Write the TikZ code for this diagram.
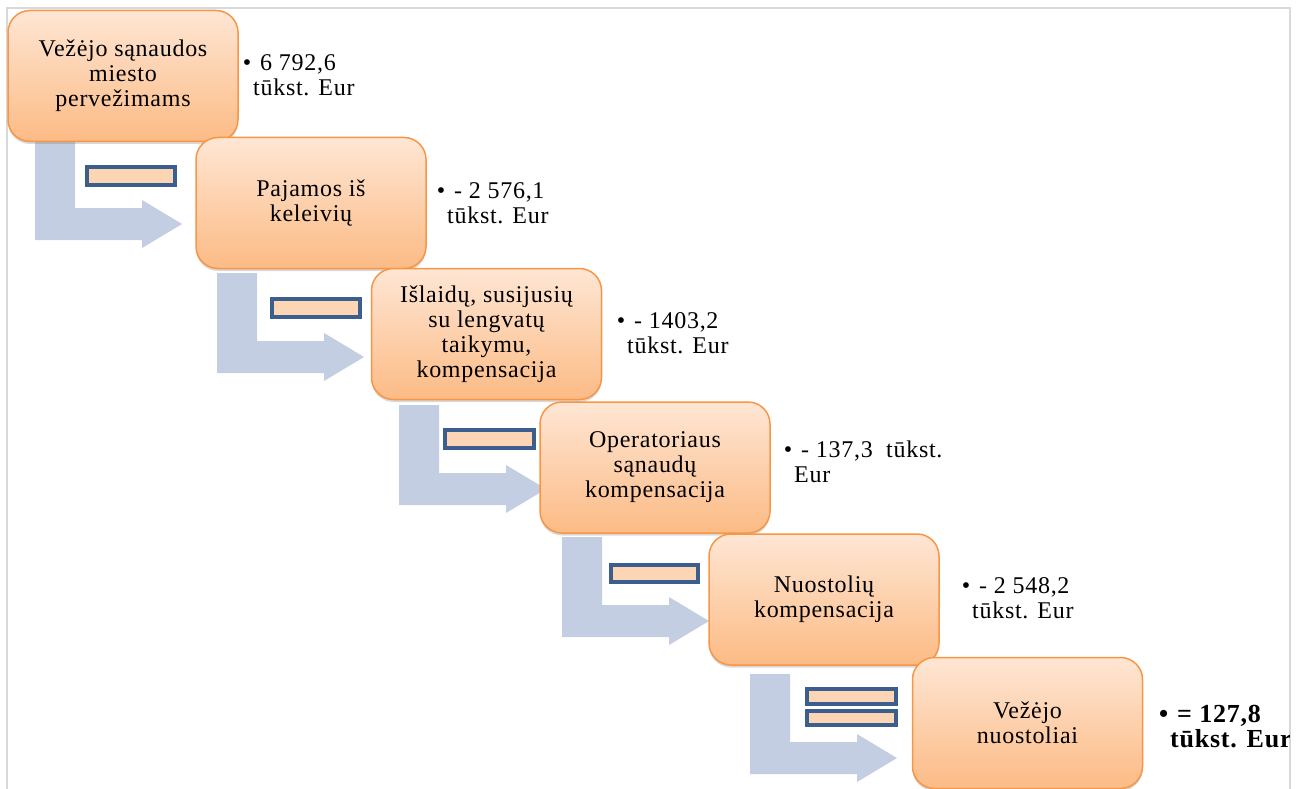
\documentclass[tikz,border=0pt]{standalone}
\usepackage{fontspec}
\setmainfont{Liberation Serif}[LetterSpace=3]
\usetikzlibrary{shadows}

\definecolor{boxtop}{HTML}{FEE6D4}
\definecolor{boxbottom}{HTML}{FCBB85}
\definecolor{boxline}{HTML}{F79646}
\definecolor{arrowfill}{HTML}{C3CEE3}
\definecolor{barfill}{HTML}{FCD5B5}
\definecolor{barline}{HTML}{3B5E8E}
\definecolor{frameline}{HTML}{D9D9D9}

% bent arrow: stem top left corner at (#1,#2)
\newcommand{\bentarrow}[2]{%
  \fill[arrowfill] (#1,#2) -- ++(40,0) -- ++(0,68) -- ++(67,0) -- ++(0,-8)
    -- ++(40,24) -- ++(-40,24) -- ++(0,-8) -- ++(-107,0) -- cycle;}

% value next to a box
\newcommand{\sidetext}[2]{\parbox[t]{200pt}{\raggedright\leavevmode
  \llap{\textbullet\hspace{2pt}}\hspace{7pt}#1\\#2}}

\begin{document}
\begin{tikzpicture}[x=1pt,y=-1pt,
  every node/.style={font=\fontsize{24}{25}\selectfont},
  stepbox/.style={draw=boxline, line width=1.5pt, rounded corners=22pt,
    top color=boxtop, bottom color=boxbottom,
    minimum width=230pt, minimum height=131pt, align=center, inner sep=4pt,
    drop shadow={shadow xshift=0pt, shadow yshift=-2.5pt, opacity=0.3}},
  minusbar/.style={draw=barline, fill=barfill, line width=3.5pt},
  value/.style={anchor=base west, inner sep=0pt}]
  \useasboundingbox (0,0) rectangle (1307,789);

  % frame
  \draw[frameline, line width=2pt] (7,789) -- (7,8) -- (1290,8) -- (1290,789);

  % arrows
  \bentarrow{35}{140}
  \bentarrow{217}{273}
  \bentarrow{399}{405}
  \bentarrow{562}{537}
  \bentarrow{750}{674}

  % minus and equal signs
  \draw[minusbar] (87,167) rectangle (175,185);
  \draw[minusbar] (272,299) rectangle (360,317);
  \draw[minusbar] (445,430) rectangle (534,448);
  \draw[minusbar] (611,565) rectangle (698,582);
  \draw[minusbar] (807,689) rectangle (896,704);
  \draw[minusbar] (807,711) rectangle (896,725);

  % steps
  \node[stepbox] at (123,76) (b1) {Vežėjo sąnaudos\\miesto\\pervežimams};
  \node[stepbox] at (311,203) (b2) {Pajamos iš\\keleivių};
  \node[stepbox] at (486.5,334) (b3) {Išlaidų, susijusių\\su lengvatų\\taikymu,\\kompensacija};
  \node[stepbox] at (655,467.5) (b4) {Operatoriaus\\sąnaudų\\kompensacija};
  \node[stepbox] at (824,599.5) (b5) {Nuostolių\\kompensacija};
  \node[stepbox] at (1027.5,723) (b6) {Vežėjo\\nuostoliai};

  % values
  \node[value] at (253,71) (v1) {\sidetext{6 792,6}{tūkst. Eur}};
  \node[value] at (447,198) (v2) {\sidetext{- 2 576,1}{tūkst. Eur}};
  \node[value] at (627,328) (v3) {\sidetext{- 1403,2}{tūkst. Eur}};
  \node[value] at (794,457) (v4) {\sidetext{- 137,3\ \ tūkst.}{Eur}};
  \node[value] at (972,593) (v5) {\sidetext{- 2 548,2}{tūkst. Eur}};
  \begin{scope}
    \clip (0,0) rectangle (1289,789);
    \node[value, font=\fontsize{26}{25}\selectfont] at (1170,722) (v6)
      {\bfseries\sidetext{= 127,8}{tūkst. Eur}};
  \end{scope}
\end{tikzpicture}
\end{document}
